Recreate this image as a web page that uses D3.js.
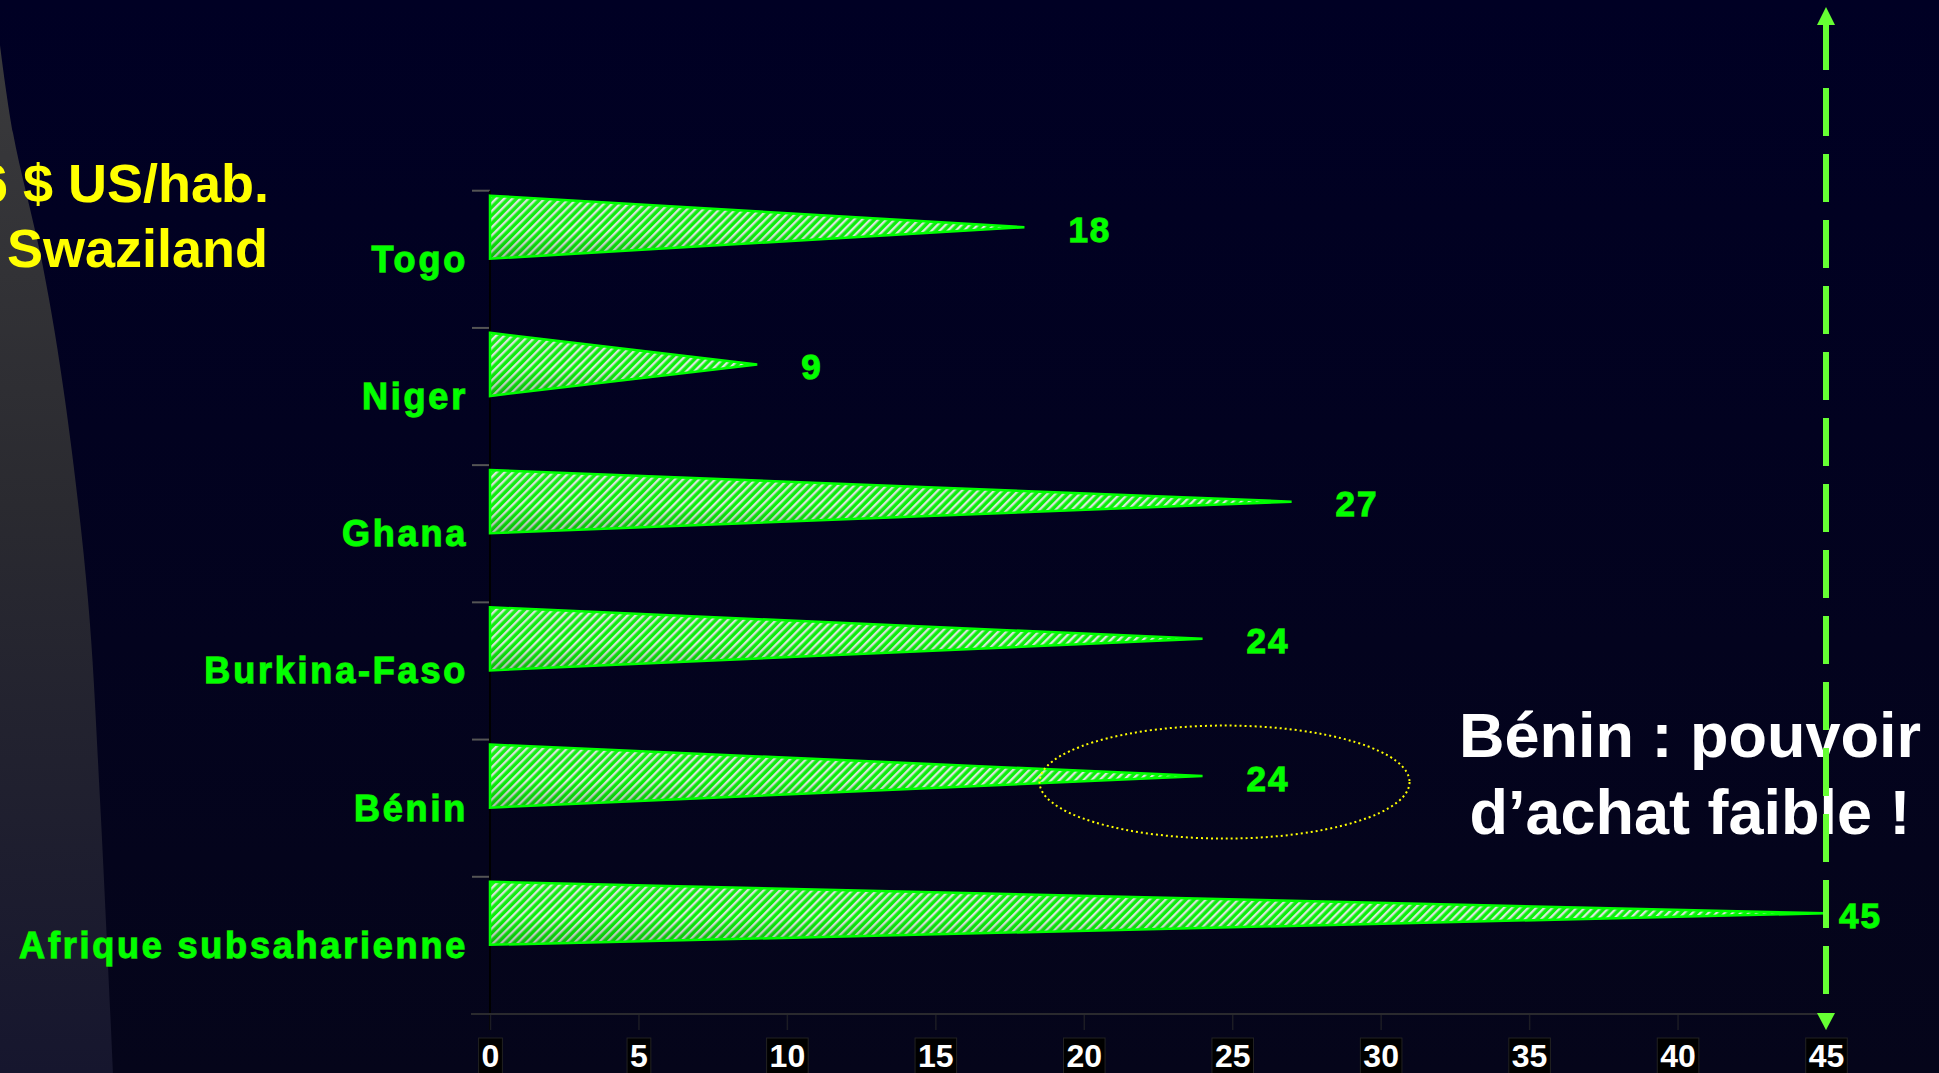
<!DOCTYPE html>
<html>
<head>
<meta charset="utf-8">
<script src="https://cdn.jsdelivr.net/npm/d3@7/dist/d3.min.js"></script>
<style>
  html, body { margin: 0; padding: 0; background: #00001f; overflow: hidden; }
  svg { display: block; font-family: "Liberation Sans", Arial, sans-serif; font-weight: bold; }
</style>
</head>
<body>
<svg id="chart" width="1939" height="1073"></svg>
<script>
// ---- data ----
const categories = ["Togo", "Niger", "Ghana", "Burkina-Faso", "Bénin", "Afrique subsaharienne"];
const values = [18, 9, 27, 24, 24, 45];
const xTicks = [0, 5, 10, 15, 20, 25, 30, 35, 40, 45];
const xDomain = [0, 45];
const referenceValue = 45;
const highlighted = "Bénin";
const annotationLines = ["Bénin : pouvoir", "d’achat faible !"];
const sideNoteLines = ["6 $ US/hab.", "Swaziland"];

const W = 1939, H = 1073;
const svg = d3.select("#chart");
const defs = svg.append("defs");

// background gradient
const bg = defs.append("linearGradient").attr("id", "bg").attr("x1", 0).attr("y1", 0).attr("x2", 0).attr("y2", 1);
bg.append("stop").attr("offset", "0%").attr("stop-color", "#000024");
bg.append("stop").attr("offset", "100%").attr("stop-color", "#05051a");
svg.append("rect").attr("width", W).attr("height", H).attr("fill", "url(#bg)");

// left grey decorative shape
const gg = defs.append("linearGradient").attr("id", "grey").attr("gradientUnits", "userSpaceOnUse")
  .attr("x1", 0).attr("y1", 40).attr("x2", 0).attr("y2", 1073);
gg.append("stop").attr("offset", "0%").attr("stop-color", "#3a3a3c");
gg.append("stop").attr("offset", "45%").attr("stop-color", "#2a2a30");
gg.append("stop").attr("offset", "100%").attr("stop-color", "#16162e");
const edge = [[0, 45], [13, 133], [43, 267], [65, 400], [88, 600], [100, 800], [113, 1073]];
const edgePath = d3.line().curve(d3.curveCatmullRom)(edge);
svg.append("path").attr("d", edgePath + "L0,1073Z").attr("fill", "url(#grey)");

// hatch pattern
const pat = defs.append("pattern").attr("id", "hatch").attr("patternUnits", "userSpaceOnUse")
  .attr("width", 5.7).attr("height", 5.7).attr("patternTransform", "rotate(45)");
pat.append("rect").attr("width", 5.7).attr("height", 5.7).attr("fill", "#0cf00c");
pat.append("rect").attr("x", 0).attr("width", 2.3).attr("height", 5.7).attr("fill", "#dde6dd");
const shade = defs.append("linearGradient").attr("id", "shade").attr("x1", 0).attr("y1", 0).attr("x2", 0).attr("y2", 1);
shade.append("stop").attr("offset", "0%").attr("stop-color", "#ffffff").attr("stop-opacity", 0.08);
shade.append("stop").attr("offset", "55%").attr("stop-color", "#000000").attr("stop-opacity", 0.0);
shade.append("stop").attr("offset", "100%").attr("stop-color", "#000000").attr("stop-opacity", 0.22);

// scales
const x = d3.scaleLinear().domain(xDomain).range([490, 1826]);
const y = d3.scaleBand().domain(categories).range([190.7, 1014]).padding(0);
const bw = y.bandwidth();
const axisY = y.range()[1];

// side note (yellow, cut at left like the reference)
svg.append("text").attr("x", 269).attr("y", 202).attr("text-anchor", "end")
  .attr("font-size", 54).attr("fill", "#ffff00").text(sideNoteLines[0]);
svg.append("text").attr("x", 7).attr("y", 267).attr("text-anchor", "start")
  .attr("font-size", 54).attr("fill", "#ffff00").text(sideNoteLines[1]);

// y axis ticks (band boundaries)
const bounds = categories.map(c => y(c)).concat([axisY]);
svg.append("g").selectAll("line").data(bounds).join("line")
  .attr("x1", x(0) - 18).attr("x2", x(0)).attr("y1", d => d).attr("y2", d => d)
  .attr("stroke", "#555").attr("stroke-width", 2);
// y axis line
svg.append("line").attr("x1", x(0)).attr("x2", x(0)).attr("y1", y.range()[0]).attr("y2", axisY + 16)
  .attr("stroke", "#000").attr("stroke-width", 2);

// x axis
const xAxis = d3.axisBottom(x).tickValues(xTicks).tickSize(16).tickPadding(22).tickFormat(d3.format("d"));
const gx = svg.append("g").attr("transform", `translate(0,${axisY})`).call(xAxis);
gx.select(".domain").remove();
gx.selectAll(".tick line").attr("stroke", "#1c1c24").attr("stroke-width", 1.5);
gx.selectAll(".tick text").attr("font-size", 32).attr("font-weight", "bold")
  .attr("fill", "#fff").attr("font-family", "Liberation Sans, Arial, sans-serif")
  .attr("dy", null).attr("y", 53);
gx.selectAll(".tick").each(function () {
  const t = d3.select(this).select("text");
  const b = t.node().getBBox();
  d3.select(this).insert("rect", "text")
    .attr("x", b.x - 3).attr("y", 24).attr("width", b.width + 6).attr("height", 50)
    .attr("fill", "#000").attr("stroke", "#222").attr("stroke-width", 1);
});
svg.append("line").attr("x1", x(0) - 19).attr("x2", x(xDomain[1])).attr("y1", axisY).attr("y2", axisY)
  .attr("stroke", "#2a2a2e").attr("stroke-width", 2);

// bars (cones)
const data = categories.map((c, i) => ({ c, v: values[i] }));
const barTop = d => y(d.c) + bw * 0.036;
const barBot = d => y(d.c) + bw * 0.496;
const barMid = d => (barTop(d) + barBot(d)) / 2;
const conePath = d => `M${x(0)},${barTop(d)}L${x(d.v)},${barMid(d)}L${x(0)},${barBot(d)}Z`;
const gb = svg.append("g");
gb.selectAll("path.fill").data(data).join("path").attr("class", "fill")
  .attr("d", conePath).attr("fill", "url(#hatch)");
gb.selectAll("path.shade").data(data).join("path").attr("class", "shade")
  .attr("d", conePath).attr("fill", "url(#shade)");
gb.selectAll("path.edge").data(data).join("path").attr("class", "edge")
  .attr("d", conePath).attr("fill", "none").attr("stroke", "#00ff00").attr("stroke-width", 2.5)
  .attr("stroke-linejoin", "miter");

// category labels
svg.append("g").selectAll("text").data(data).join("text")
  .attr("x", x(0) - 22).attr("y", d => y(d.c) + bw * 0.59)
  .attr("text-anchor", "end").attr("font-size", 36).attr("letter-spacing", 2.8)
  .attr("fill", "#00ff00").attr("stroke", "#1fcf00").attr("stroke-width", 1.3)
  .attr("paint-order", "stroke").text(d => d.c);

// value labels
svg.append("g").selectAll("text").data(data).join("text")
  .attr("x", d => x(d.v) + (d.v === referenceValue ? 13 : 44))
  .attr("y", d => barMid(d) + 14.5)
  .attr("font-size", 35).attr("letter-spacing", 2)
  .attr("fill", "#00ff00").attr("stroke", "#1fcf00").attr("stroke-width", 1.3)
  .attr("paint-order", "stroke").text(d => d.v);

// highlight ellipse around Bénin value
const hd = data.find(d => d.c === highlighted);
svg.append("ellipse").attr("cx", x(hd.v) + 22).attr("cy", barMid(hd) + 6)
  .attr("rx", 185).attr("ry", 56.5).attr("fill", "none")
  .attr("stroke", "#ffff00").attr("stroke-width", 2).attr("stroke-dasharray", "2,3");

// annotation text
const ann = svg.append("text").attr("text-anchor", "middle").attr("font-size", 63).attr("fill", "#ffffff");
ann.selectAll("tspan").data(annotationLines).join("tspan")
  .attr("x", 1690).attr("y", (d, i) => 757 + i * 77).text(d => d);

// reference dashed arrow line
const rx = x(referenceValue);
svg.append("line").attr("x1", rx).attr("x2", rx).attr("y1", 22).attr("y2", 997)
  .attr("stroke", "#66ff33").attr("stroke-width", 6).attr("stroke-dasharray", "48,18");
svg.append("path").attr("d", `M${rx},7L${rx - 9},25L${rx + 9},25Z`).attr("fill", "#66ff33");
svg.append("path").attr("d", `M${rx - 9},${axisY - 1}L${rx + 9},${axisY - 1}L${rx},${axisY + 16}Z`).attr("fill", "#66ff33");
</script>
</body>
</html>
